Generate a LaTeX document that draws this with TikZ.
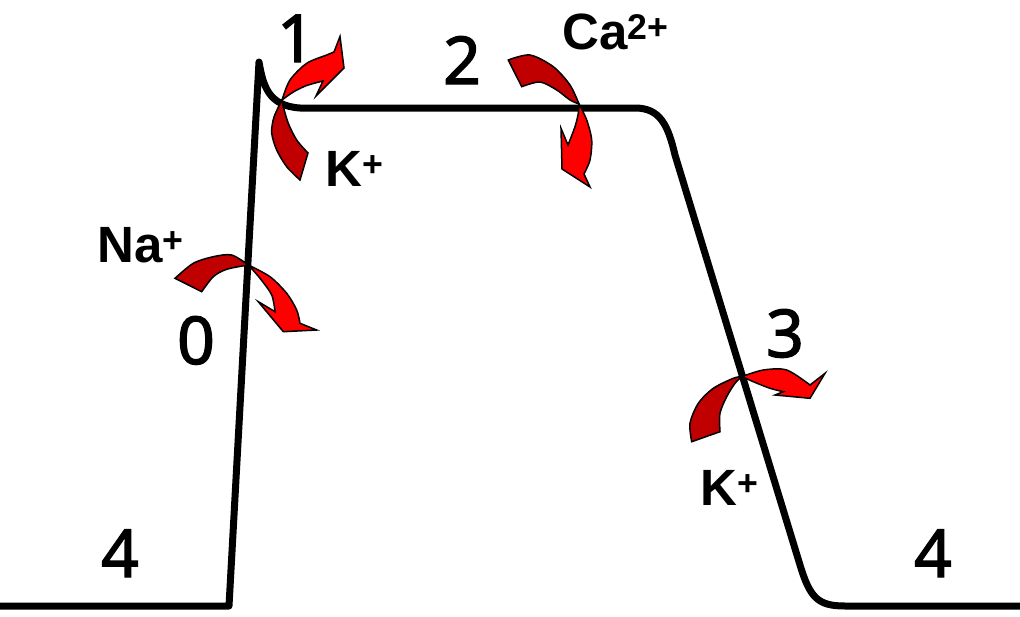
\documentclass[tikz,border=0pt]{standalone}
\usepackage{fontspec}
\setmainfont{Liberation Sans}
\newfontfamily\digitfont[FakeBold=2]{Noto Sans}
\definecolor{arrowdark}{HTML}{C00000}
\definecolor{arrowbright}{HTML}{FF0000}
\begin{document}
\begin{tikzpicture}[x=1pt,y=-1pt,
  trace/.style={line width=7pt, line join=round},
  darkpart/.style={fill=arrowdark, draw=black, line width=1.5pt, line join=miter},
  brightpart/.style={fill=arrowbright, draw=black, line width=1.5pt, line join=miter},
  stage/.style={font=\digitfont\fontsize{66}{66}\selectfont, inner sep=0pt, anchor=base},
  ion/.style={font=\bfseries\fontsize{51}{51}\selectfont, inner sep=0pt, anchor=base west}]
\useasboundingbox (0,0) rectangle (1020,616);
\fill[white] (0,0) rectangle (1020,616);

% action potential trace
\draw[trace] (0,606) -- (229,606) -- (259,62)
  .. controls (263,85) and (268,106) .. (300,108) -- (635,108)
  .. controls (660,108) and (668,125) .. (675,155) -- (800,565)
  .. controls (810,598) and (818,606) .. (845,606) -- (1020,606);

% arrow at phase 1 (K+ out)
\filldraw[darkpart] plot[smooth] coordinates {(282,100) (274,117) (271.7,133) (276.7,150) (286.7,166.7) (300,180)}
  -- plot[smooth] coordinates {(308,153) (296.7,140) (288.3,123.3) (283.3,106.7) (282,100)} -- cycle;
\filldraw[brightpart] plot[smooth] coordinates {(282,100) (290,80) (306.7,63.3) (326.7,55) (334,52)}
  -- (340,36.5) -- (344,68) -- (316,96) -- (323,81)
  -- plot[smooth] coordinates {(323,81) (306.7,85.5) (293.3,92) (282,100)} -- cycle;

% arrow at phase 2 (Ca2+ in)
\filldraw[darkpart] plot[smooth] coordinates {(508.3,60) (530,55) (553.3,66.7) (570,85) (579,104)}
  -- plot[smooth] coordinates {(579,104) (570,100) (556.7,90) (540,82) (521.7,86.7)} -- cycle;
\filldraw[brightpart] plot[smooth] coordinates {(579,104) (586.7,120) (591.7,140) (590,160) (584,174)}
  -- (590,187) -- (562,169) -- (561,128.3) -- (568,145)
  -- plot[smooth] coordinates {(568,145) (575,126.7) (578.3,113.3) (579,104)} -- cycle;

% arrow at phase 0 (Na+ in)
\filldraw[darkpart] plot[smooth] coordinates {(175,278.3) (193.3,263.3) (213.3,256.7) (231.7,255) (248.3,265)}
  -- plot[smooth] coordinates {(248.3,265) (226.7,269.3) (213.3,276.7) (201.7,291.7)} -- cycle;
\filldraw[brightpart] plot[smooth] coordinates {(248.3,265) (270,276.7) (286.7,293.3) (296.7,310) (300,323.3)}
  -- (316.7,330) -- (283.3,331.7) -- (258.3,301.7) -- (275,311.7)
  -- plot[smooth] coordinates {(275,311.7) (271.7,295) (260,278.3) (248.3,265)} -- cycle;

% arrow at phase 3 (K+ out)
\filldraw[darkpart] plot[smooth] coordinates {(691.7,441.7) (690,423.3) (698.3,403.3) (713.3,388.3) (733.3,378.3) (742,376.5)}
  -- plot[smooth] coordinates {(742,376.5) (735,383.3) (726.7,396.7) (720,413.3) (720,431.7)} -- cycle;
\filldraw[brightpart] plot[smooth] coordinates {(742,376.5) (763.3,370) (786.7,370) (810,385)}
  -- (825,373.3) -- (810,398.3) -- (775,395) -- (783.3,391.7)
  -- plot[smooth] coordinates {(783.3,391.7) (770,388.3) (753.3,381.7) (742,376.5)} -- cycle;

% phase numbers
\node[stage] (p1) at (296,62) {1};
\node[stage] (p2) at (462,84) {2};
\node[stage] (p0) at (196,364) {0};
\node[stage] (p3) at (785,357) {3};
\node[stage] (p4a) at (120,577) {4};
\node[stage] (p4b) at (933,577) {4};

% ion labels
\node[ion] (na) at (97,262) {Na\textsuperscript{+}};
\node[ion] (k1) at (325,186) {K\textsuperscript{+}};
\node[ion] (ca) at (562,49) {Ca\textsuperscript{2+}};
\node[ion] (k3) at (700,505) {K\textsuperscript{+}};
\end{tikzpicture}
\end{document}
